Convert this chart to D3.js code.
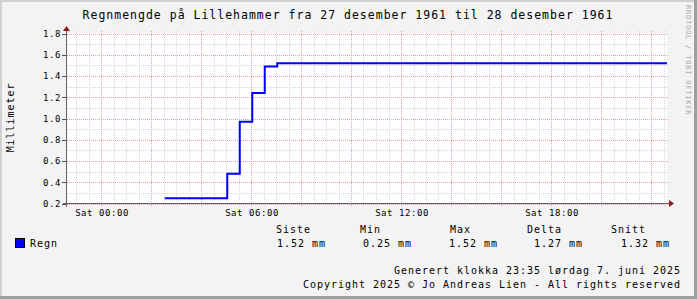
<!DOCTYPE html>
<html><head><meta charset="utf-8">
<script src="https://cdn.jsdelivr.net/npm/d3@7"></script>
<style>
html,body{margin:0;padding:0;background:#f3f3f3;}
svg text{font-family:"DejaVu Sans Mono",monospace;}
</style></head>
<body><svg id="c" width="697" height="299"></svg>
<script>
// ---- data ----
const title = "Regnmengde på Lillehammer fra 27 desember 1961 til 28 desember 1961";
const yLabel = "Millimeter";
const times = ["1961-12-28T02:33:00Z","1961-12-28T05:03:00Z","1961-12-28T05:33:00Z","1961-12-28T06:03:00Z","1961-12-28T06:33:00Z","1961-12-28T07:03:00Z"];
const values = [0.25, 0.48, 0.97, 1.24, 1.49, 1.52];
const rangeStart = "1961-12-27T22:38:24Z";
const rangeEnd = "1961-12-28T22:38:24Z";
const yTicks = [0.2,0.4,0.6,0.8,1.0,1.2,1.4,1.6,1.8];
const xTickLabels = ["Sat 00:00","Sat 06:00","Sat 12:00","Sat 18:00"];
const legendHeaders = ["Siste","Min","Max","Delta","Snitt"];
const legendValues = ["1.52 mm","0.25 mm","1.52 mm","1.27 mm","1.32 mm"];
const seriesName = "Regn";
const footer1 = "Generert klokka 23:35 lørdag 7. juni 2025";
const footer2 = "Copyright 2025 © Jo Andreas Lien - All rights reserved";
const watermark = "RRDTOOL / TOBI OETIKER";

const svg = d3.select("#c");
const W=697,H=299;
// frame
svg.append("rect").attr("x",0).attr("y",0).attr("width",W).attr("height",H).attr("fill","#f3f3f3");
svg.append("rect").attr("x",0).attr("y",0).attr("width",W).attr("height",2).attr("fill","#d0d0d0");
svg.append("rect").attr("x",0).attr("y",0).attr("width",2).attr("height",H).attr("fill","#d0d0d0");
svg.append("rect").attr("x",W-3).attr("y",0).attr("width",3).attr("height",H).attr("fill","#9e9e9e");
svg.append("rect").attr("x",0).attr("y",H-3).attr("width",W).attr("height",3).attr("fill","#9e9e9e");

const t0 = new Date(rangeStart), t1 = new Date(rangeEnd);
const x = d3.scaleUtc().domain([t0,t1]).range([67,667]);
const y = d3.scaleLinear().domain([0.2,1.8]).range([203.5,33.5]);

// plot bg
svg.append("rect").attr("x",67).attr("y",33).attr("width",600).attr("height",170).attr("fill","#ffffff");

const g = svg.append("g");
// minor horizontal grid
const yMinor = d3.range(0.2,1.801,0.1);
g.selectAll(".hm").data(yMinor).join("line")
 .attr("x1",67).attr("x2",669).attr("y1",d=>Math.round(y(d))+0.5).attr("y2",d=>Math.round(y(d))+0.5)
 .attr("stroke","#d6d6d6").attr("stroke-dasharray","1,1");
// minor vertical grid every 30 min
const vMinor = d3.utcMinute.every(30).range(t0,t1);
g.selectAll(".vm").data(vMinor).join("line")
 .attr("x1",d=>Math.round(x(d))+0.5).attr("x2",d=>Math.round(x(d))+0.5).attr("y1",31).attr("y2",206)
 .attr("stroke","#d6d6d6").attr("stroke-dasharray","1,1");
// major horizontal
g.selectAll(".hM").data(yTicks).join("line")
 .attr("x1",67).attr("x2",669).attr("y1",d=>Math.round(y(d))+0.5).attr("y2",d=>Math.round(y(d))+0.5)
 .attr("stroke","#e8a0a0").attr("stroke-dasharray","1,1");
// major vertical every 2h
const vMajor = d3.utcHour.every(2).range(t0,t1);
g.selectAll(".vM").data(vMajor).join("line")
 .attr("x1",d=>Math.round(x(d))+0.5).attr("x2",d=>Math.round(x(d))+0.5).attr("y1",31).attr("y2",207)
 .attr("stroke","#e8a0a0").attr("stroke-dasharray","1,1");

// y tick marks
g.selectAll(".yt").data(yTicks).join("line")
 .attr("x1",62).attr("x2",67).attr("y1",d=>Math.round(y(d))+0.5).attr("y2",d=>Math.round(y(d))+0.5)
 .attr("stroke","#555");

// data line
const pts = times.map((t,i)=>({t:new Date(t),v:values[i]}));
pts.push({t:t1,v:values[values.length-1]});
const line = d3.line().x(d=>x(d.t)).y(d=>y(d.v)).curve(d3.curveStepAfter);
g.append("path").attr("d",line(pts)).attr("fill","none").attr("stroke","#0000ff").attr("stroke-width",2);

// axes lines
svg.append("line").attr("x1",66.5).attr("x2",66.5).attr("y1",31).attr("y2",207).attr("stroke","#606060");
svg.append("line").attr("x1",63).attr("x2",670).attr("y1",203.5).attr("y2",203.5).attr("stroke","#606060");
// arrows
svg.append("path").attr("d","M63,31 L70,31 L66.5,26 Z").attr("fill","#8b1a1a");
svg.append("path").attr("d","M669,200 L669,207 L674,203.5 Z").attr("fill","#8b1a1a");

// y labels
svg.selectAll(".yl").data(yTicks).join("text")
 .attr("x",61).attr("y",d=>y(d)+3.3).attr("text-anchor","end")
 .attr("font-size","9px").attr("letter-spacing","0.6px").attr("fill","#000")
 .text(d=>d.toFixed(1));
// x labels
const xLabelTimes = d3.utcHour.every(6).range(t0,t1);
svg.selectAll(".xl").data(xLabelTimes).join("text")
 .attr("x",d=>x(d)+1).attr("y",216).attr("text-anchor","middle")
 .attr("font-size","9px").attr("letter-spacing","0.55px").attr("fill","#000")
 .text((d,i)=>xTickLabels[i]);

// title
svg.append("text").attr("x",348).attr("y",18.5).attr("text-anchor","middle")
 .attr("font-size","11.5px").attr("letter-spacing","1px").attr("fill","#000").text(title);
// y axis label
svg.append("text").attr("transform","translate(14,117.5) rotate(-90)").attr("text-anchor","middle")
 .attr("font-size","10px").attr("letter-spacing","0.95px").attr("fill","#000").text(yLabel);
// watermark
svg.append("text").attr("transform","translate(685.5,5) rotate(90)").attr("text-anchor","start")
 .attr("font-size","7px").attr("letter-spacing","0.8px").attr("fill","#aaaaaa").text(watermark);

// legend
const hx = [276,360,450,527,611];
const vx = [277,363,449,534,621];
svg.selectAll(".lh").data(legendHeaders).join("text")
 .attr("x",(d,i)=>hx[i]).attr("y",233).attr("font-size","10px").attr("letter-spacing","0.98px").text(d=>d);
svg.selectAll(".lv").data(legendValues).join("text")
 .attr("x",(d,i)=>vx[i]).attr("y",247).attr("font-size","10px").attr("letter-spacing","0.98px").text(d=>d);
svg.append("rect").attr("x",15.5).attr("y",238.5).attr("width",9).attr("height",9).attr("fill","#0000ff").attr("stroke","#000");
svg.append("text").attr("x",30).attr("y",247).attr("font-size","10px").attr("letter-spacing","0.98px").text(seriesName);

// footer
svg.append("text").attr("x",681).attr("y",274).attr("text-anchor","end").attr("font-size","10px").attr("letter-spacing","0.98px").text(footer1);
svg.append("text").attr("x",681).attr("y",288).attr("text-anchor","end").attr("font-size","10px").attr("letter-spacing","0.98px").text(footer2);
</script></body></html>
